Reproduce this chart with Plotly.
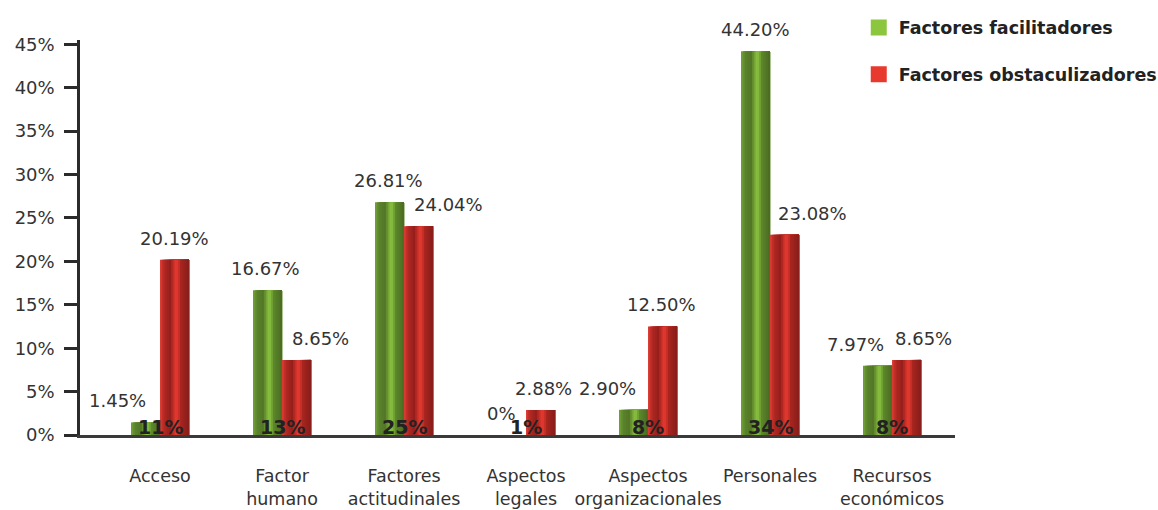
import plotly.graph_objects as go

# Categories and the share of each kind of factor (percent)
categories = [
    "Acceso",
    "Factor<br>humano",
    "Factores<br>actitudinales",
    "Aspectos<br>legales",
    "Aspectos<br>organizacionales",
    "Personales",
    "Recursos<br>económicos",
]
facilitadores = [1.45, 16.67, 26.81, 0.0, 2.90, 44.20, 7.97]
obstaculizadores = [20.19, 8.65, 24.04, 2.88, 12.50, 23.08, 8.65]
totales = [11, 13, 25, 1, 8, 34, 8]
y_ticks = [0, 5, 10, 15, 20, 25, 30, 35, 40, 45]

series_names = ["Factores facilitadores", "Factores obstaculizadores"]

# --- styling -------------------------------------------------------------
BAR_W = 0.238          # width of one bar in category units
N_STRIPS = 16          # vertical strips used for the cylinder shading
LABEL_FONT = "DejaVu Sans"

green_profile = [(0.0, "#76a43a"), (0.15, "#5a822b"), (0.35, "#537728"),
                 (0.56, "#8dc740"), (0.72, "#5c862b"), (1.0, "#4a6a21")]
red_profile = [(0.0, "#e33b31"), (0.15, "#b02822"), (0.35, "#951f1c"),
               (0.56, "#ec3b31"), (0.72, "#a8251f"), (1.0, "#861d1a")]
legend_colors = ["#8cc63f", "#e8392f"]

# horizontal nudges (px) of the value labels, relative to each bar
shift_fac = [-28, -2, -1, -10, -26, 0, -22]
shift_obs = [0, 24, 30, 3, -1, 28, 17]


def hex_to_rgb(h):
    h = h.lstrip("#")
    return [int(h[i:i + 2], 16) for i in (0, 2, 4)]


def profile_color(profile, t):
    for (t0, c0), (t1, c1) in zip(profile, profile[1:]):
        if t0 <= t <= t1:
            f = (t - t0) / (t1 - t0) if t1 > t0 else 0
            a, b = hex_to_rgb(c0), hex_to_rgb(c1)
            r, g, bl = (round(a[i] + (b[i] - a[i]) * f) for i in range(3))
            return f"rgb({r},{g},{bl})"
    return profile[-1][1]


def fmt(v):
    return "0%" if v == 0 else f"{v:.2f}%"


fig = go.Figure()

# shaded bars: each bar is built from overlapping strips that run to its right edge
for values, profile, base in ((facilitadores, green_profile, -BAR_W),
                              (obstaculizadores, red_profile, 0.0)):
    step = BAR_W / N_STRIPS
    for j in range(N_STRIPS):
        t = (j + 0.5) / N_STRIPS
        fig.add_trace(go.Bar(
            x=categories, y=values,
            offset=base + j * step, width=BAR_W - j * step,
            marker=dict(color=profile_color(profile, t), line=dict(width=0)),
            showlegend=False, hoverinfo="skip",
        ))

# legend entries
for name, col in zip(series_names, legend_colors):
    fig.add_trace(go.Scatter(
        x=[None], y=[None], mode="markers", name=name, legendgroup=name,
        marker=dict(symbol="square", size=16, color=col),
    ))

annotations = []
for i, cat in enumerate(categories):
    for val, offs, sh in ((facilitadores[i], -BAR_W / 2, shift_fac[i]),
                          (obstaculizadores[i], BAR_W / 2, shift_obs[i])):
        annotations.append(dict(
            x=cat, y=val, xref="x", yref="y", text=fmt(val), showarrow=False,
            xanchor="center", yanchor="bottom",
            xshift=offs * 122 + sh, yshift=9,
            font=dict(family=LABEL_FONT, size=18, color="#333333"),
        ))
    annotations.append(dict(
        x=cat, y=0, xref="x", yref="y", text=f"{totales[i]}%", showarrow=False,
        xanchor="center", yanchor="middle", yshift=8,
        font=dict(family=LABEL_FONT, size=19, color="#222222", weight="bold"),
    ))

fig.update_layout(
    width=1158, height=510,
    barmode="overlay",
    plot_bgcolor="white", paper_bgcolor="white",
    margin=dict(l=80, r=203, t=40, b=75, autoexpand=False),
    annotations=annotations,
    showlegend=True,
    legend=dict(
        x=0.890, xanchor="left", y=1.077, yanchor="top",
        tracegroupgap=21, bgcolor="rgba(0,0,0,0)",
        font=dict(family=LABEL_FONT, size=17.5, color="#222222", weight="bold"),
    ),
    xaxis=dict(
        type="category", range=[-0.656, 6.516],
        showline=True, linecolor="#3a3a3a", linewidth=3,
        ticks="", showgrid=False, zeroline=False,
        tickangle=0, ticklabelstandoff=23,
        tickfont=dict(family=LABEL_FONT, size=17.5, color="#333333"),
    ),
    yaxis=dict(
        range=[0, 45.5],
        tickvals=y_ticks, ticktext=[f"{v}%" for v in y_ticks],
        ticks="outside", ticklen=13, tickwidth=2.5, tickcolor="#2b2b2b",
        showline=True, linecolor="#2b2b2b", linewidth=2.5,
        showgrid=False, zeroline=False, ticklabelstandoff=6,
        tickfont=dict(family=LABEL_FONT, size=18, color="#333333"),
    ),
)

fig.write_html("out.html")
